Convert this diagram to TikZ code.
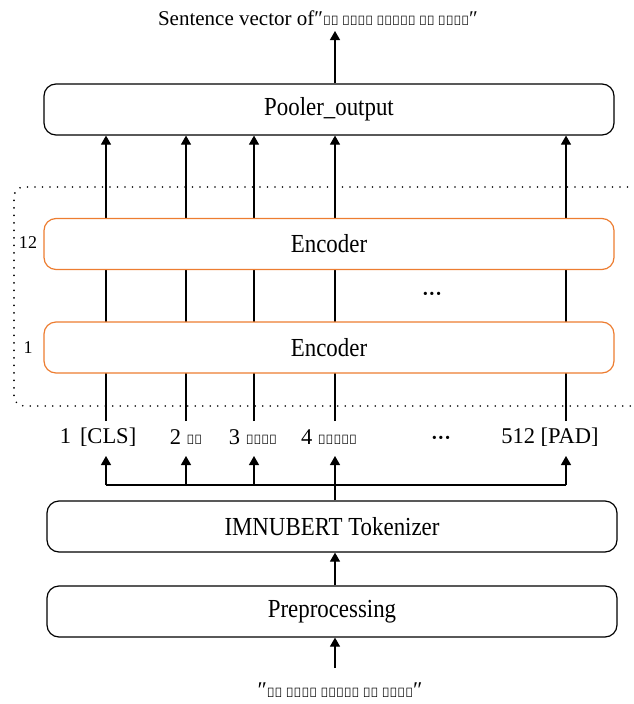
\documentclass[tikz,border=0pt]{standalone}
\usepackage{fontspec}
\setmainfont{Liberation Serif}
\newfontfamily\mtei{Noto Sans}
\usetikzlibrary{arrows.meta}
\definecolor{encorange}{HTML}{ED7D31}
\newcommand{\cond}[1]{\scalebox{0.88}[1]{#1}}
\begin{document}
\begin{tikzpicture}[x=1pt,y=-1pt,
  box/.style={draw=black, line width=1.2pt, rounded corners=12pt, minimum width=570pt, minimum height=51pt, fill=white, inner sep=0pt, font=\fontsize{26}{28}\selectfont},
  enc/.style={box, draw=encorange},
  arr/.style={-{Triangle[width=10pt,length=9pt]}, line width=1.2pt},
  ln/.style={line width=1.2pt},
  lbl/.style={inner sep=0pt, font=\fontsize{22.5}{24}\selectfont},
  small/.style={inner sep=0pt, font=\fontsize{18}{20}\selectfont},
  dots/.style={line width=1.8pt, dash pattern=on 0pt off 7.5pt, line cap=round, rounded corners=10pt}]
\useasboundingbox (0,0) rectangle (633,704);
% title
\node[lbl, font=\fontsize{21}{24}\selectfont] (title) at (318,18) {Sentence vector of″{\mtei\fontsize{13}{16}\selectfont ꯑꯩ ꯃꯅꯤꯡ ꯇꯧꯔꯤꯕ ꯃꯤ ꯑꯃꯅꯤ}″};
\coordinate (titlebot) at (335,31);
% pooler
\node[box] (pool) at (329,109.5) {\cond{Pooler\_output}};
% columns
\coordinate (c1) at (106,421);
\coordinate (c2) at (186,421);
\coordinate (c3) at (254,421);
\coordinate (c4) at (335,421);
\coordinate (c5) at (566,421);
\foreach \c in {c1,c2,c3,c4,c5}{\draw[arr] (\c) -- (\c |- pool.south);}
% dotted frame
\draw[dots] (650,187) -- (14,187) -- (14,406) -- (650,406);
% encoders
\node[enc] (enc12) at (329,244) {\cond{Encoder}};
\node[enc] (enc1) at (329,347.5) {\cond{Encoder}};
\node[small] (l12) at (28,243) {12};
\node[small] (l1) at (28,348) {1};
\node[lbl, font=\bfseries\fontsize{20}{22}\selectfont] (vdots) at (432,296) {···};
\draw[arr] (pool.north -| titlebot) -- (titlebot);
% tokens
\node[lbl] (t1) at (98,437) {1\hspace{9pt}[CLS]};
\node[lbl] (t2) at (186,437) {2 {\mtei\fontsize{13}{16}\selectfont ꯑꯩ}};
\node[lbl] (t3) at (253,437) {3 {\mtei\fontsize{13}{16}\selectfont ꯃꯅꯤꯡ}};
\node[lbl] (t4) at (329,437) {4 {\mtei\fontsize{13}{16}\selectfont ꯇꯧꯔꯤꯕ}};
\node[lbl, font=\bfseries\fontsize{20}{22}\selectfont] (t5) at (441,440) {···};
\node[lbl] (t6) at (550,437) {512 [PAD]};
% tokenizer & preprocessing
\node[box] (tok) at (332,526.5) {\cond{IMNUBERT Tokenizer}};
\node[box] (pre) at (332,611.5) {\cond{Preprocessing}};
\coordinate (hub) at (335,485);
\coordinate (tiprow) at (0,456);
\draw[ln] (c1 |- hub) -- (c5 |- hub);
\draw[ln] (tok.north -| hub) -- (hub);
\foreach \c in {c1,c2,c3,c4,c5}{\draw[arr] (\c |- hub) -- (\c |- tiprow);}
\draw[arr] (pre.north -| hub) -- (tok.south -| hub);
% input
\coordinate (inptop) at (335,668);
\draw[arr] (inptop) -- (pre.south -| inptop);
\node[lbl] (inp) at (340,690) {″{\mtei\fontsize{13}{16}\selectfont ꯑꯩ ꯃꯅꯤꯡ ꯇꯧꯔꯤꯕ ꯃꯤ ꯑꯃꯅꯤ}″};
\end{tikzpicture}
\end{document}
